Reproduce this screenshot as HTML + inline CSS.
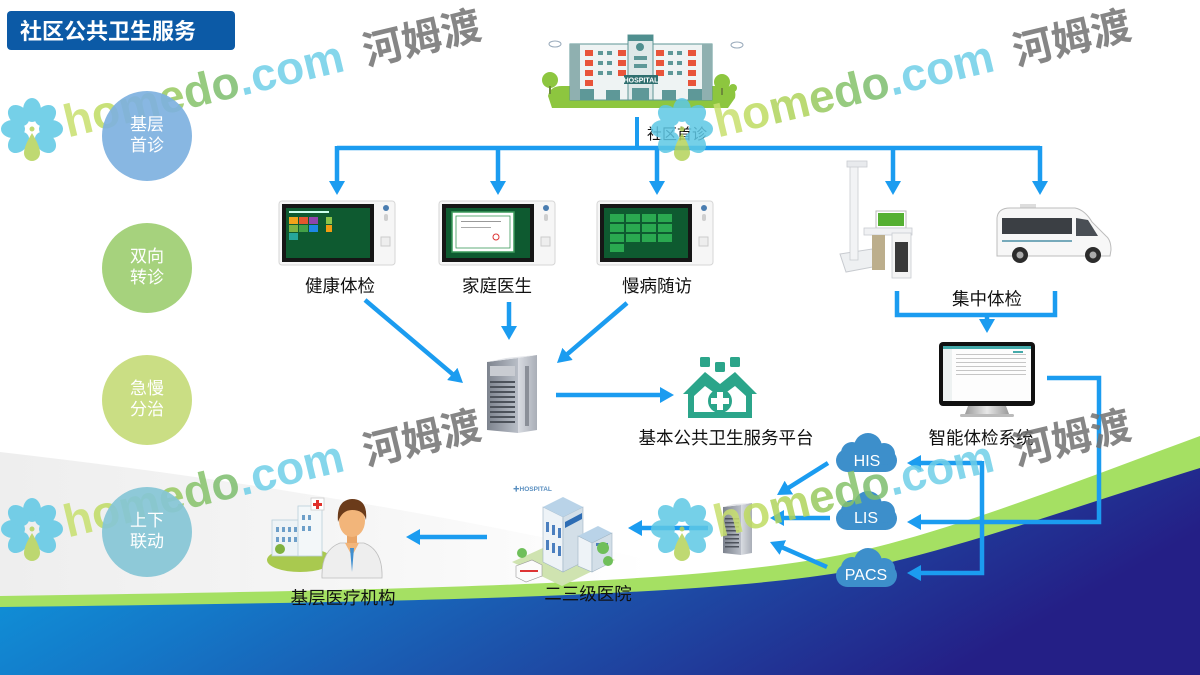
<!DOCTYPE html>
<html><head><meta charset="utf-8">
<style>
html,body{margin:0;padding:0;background:#fff;width:1200px;height:675px;overflow:hidden}
svg{display:block}
text{font-family:"Liberation Sans","Noto Sans CJK SC",sans-serif}
</style></head>
<body>
<svg width="1200" height="675" viewBox="0 0 1200 675" xmlns="http://www.w3.org/2000/svg">
<defs>
 <linearGradient id="blueg" x1="0" y1="0" x2="1" y2="0.3">
  <stop offset="0" stop-color="#0ca4e4"/>
  <stop offset="0.35" stop-color="#1478c8"/>
  <stop offset="0.65" stop-color="#1d4fa8"/>
  <stop offset="1" stop-color="#241f86"/>
 </linearGradient>
 <linearGradient id="grayg" x1="0" y1="0" x2="1" y2="0">
  <stop offset="0" stop-color="#eeeeee"/>
  <stop offset="0.5" stop-color="#f5f5f5"/>
  <stop offset="1" stop-color="#ffffff"/>
 </linearGradient>
 <linearGradient id="srv" x1="0" y1="0" x2="1" y2="0">
  <stop offset="0" stop-color="#7d838e"/>
  <stop offset="1" stop-color="#b9bec7"/>
 </linearGradient>
 <linearGradient id="srvs" x1="0" y1="0" x2="1" y2="0">
  <stop offset="0" stop-color="#d9dce2"/>
  <stop offset="1" stop-color="#a9aeb7"/>
 </linearGradient>
 <linearGradient id="stand" x1="0" y1="0" x2="1" y2="0">
  <stop offset="0" stop-color="#9a9a9a"/>
  <stop offset="0.5" stop-color="#e8e8e8"/>
  <stop offset="1" stop-color="#9a9a9a"/>
 </linearGradient>
 <marker id="ah" markerWidth="16" markerHeight="16" refX="2" refY="8" orient="auto" markerUnits="userSpaceOnUse"><path d="M0,0 L14,8 L0,16 z" fill="#1b9cf0"/></marker>
</defs>

<!-- background bottom -->
<path d="M0,452 C200,475 400,505 650,560 L650,590 C400,594 200,596 0,598 Z" fill="url(#grayg)"/>
<path d="M0,596 C400,590 700,585 850,553 C950,532 1080,480 1200,436 L1200,675 L0,675 Z" fill="#a5e063"/>
<path d="M0,607 C400,602 700,597 850,571 C950,552 1080,505 1200,468 L1200,675 L0,675 Z" fill="url(#blueg)"/>

<!-- header -->
<rect x="7" y="11" width="228" height="39" rx="4" fill="#0c5aa6"/>
<text x="20" y="39" font-size="22" font-weight="bold" fill="#fff">社区公共卫生服务</text>

<!-- top hospital -->
<g>
 <path d="M548,96 Q550,86 562,86 L728,86 Q737,88 735,98 L728,108 L552,108 Z" fill="#8dc63f"/>
 <circle cx="550" cy="80" r="8" fill="#8dc63f"/><rect x="549" y="86" width="2" height="8" fill="#6d8a3a"/>
 <circle cx="722" cy="82" r="8" fill="#8dc63f"/><rect x="721" y="88" width="2" height="7" fill="#6d8a3a"/>
 <circle cx="733" cy="88" r="4" fill="#8dc63f"/>
 <ellipse cx="555" cy="44" rx="6" ry="3" fill="none" stroke="#9ab" stroke-width="1"/>
 <ellipse cx="737" cy="45" rx="6" ry="3" fill="none" stroke="#9ab" stroke-width="1"/>
 <rect x="570" y="44" width="142" height="56" fill="#eef3f3" stroke="#5d9595" stroke-width="1"/>
 <rect x="570" y="44" width="10" height="56" fill="#8fb0b0"/>
 <rect x="702" y="44" width="10" height="56" fill="#8fb0b0"/>
 <rect x="628" y="35" width="25" height="65" fill="#dfe9e9" stroke="#5d9595" stroke-width="1"/>
 <rect x="628" y="35" width="25" height="6" fill="#4f8f8f"/>
 <circle cx="640" cy="47" r="4" fill="#4f8f8f"/>
 <g fill="#e8543a">
  <rect x="585" y="50" width="8" height="6"/><rect x="618" y="50" width="8" height="6"/><rect x="656" y="50" width="8" height="6"/><rect x="688" y="50" width="8" height="6"/>
  <rect x="585" y="60" width="8" height="6"/><rect x="618" y="60" width="8" height="6"/><rect x="656" y="60" width="8" height="6"/><rect x="688" y="60" width="8" height="6"/>
  <rect x="585" y="70" width="8" height="6"/><rect x="618" y="70" width="8" height="6"/><rect x="656" y="70" width="8" height="6"/><rect x="688" y="70" width="8" height="6"/>
  <rect x="585" y="80" width="8" height="6"/><rect x="688" y="80" width="8" height="6"/>
 </g>
 <g fill="#5e9898">
  <rect x="598" y="51" width="5" height="4"/><rect x="607" y="51" width="5" height="4"/><rect x="668" y="51" width="5" height="4"/><rect x="677" y="51" width="5" height="4"/>
  <rect x="598" y="61" width="5" height="4"/><rect x="607" y="61" width="5" height="4"/><rect x="668" y="61" width="5" height="4"/><rect x="677" y="61" width="5" height="4"/>
  <rect x="598" y="71" width="5" height="4"/><rect x="607" y="71" width="5" height="4"/><rect x="668" y="71" width="5" height="4"/><rect x="677" y="71" width="5" height="4"/>
  <rect x="634" y="56" width="13" height="4"/><rect x="634" y="64" width="13" height="4"/>
  <rect x="580" y="89" width="14" height="11"/><rect x="606" y="90" width="14" height="10"/><rect x="632" y="88" width="17" height="12"/><rect x="662" y="90" width="14" height="10"/><rect x="688" y="89" width="14" height="11"/>
 </g>
 <rect x="624" y="75" width="34" height="9" fill="#2f6f6f"/>
 <text x="641" y="82.5" font-size="7" font-weight="bold" fill="#fff" text-anchor="middle">HOSPITAL</text>
</g>
<rect x="635" y="117" width="4" height="31" fill="#1b9cf0"/>
<text x="647" y="139" font-size="15" fill="#111">社区首诊</text>

<!-- distribution lines -->
<g stroke="#1b9cf0" stroke-width="4.5" fill="none">
 <path d="M337,148 H1040"/>
 <path d="M337,146 V183" marker-end="url(#ah)"/>
 <path d="M498,148 V183" marker-end="url(#ah)"/>
 <path d="M657,148 V183" marker-end="url(#ah)"/>
 <path d="M893,148 V183" marker-end="url(#ah)"/>
 <path d="M1040,146 V183" marker-end="url(#ah)"/>
</g>

<!-- tablets -->
<g transform="translate(279,201)">
 <rect x="0" y="0" width="116" height="64" rx="3" fill="#f6f6f6" stroke="#d6d6d6"/>
 <rect x="3" y="3" width="92" height="58" fill="#161616"/>
 <rect x="7" y="7" width="84" height="50" fill="#0e5a30"/>
 <rect x="10" y="10" width="40" height="2" fill="#cfe"/>
 <rect x="10" y="16" width="9" height="7" fill="#f2a31b"/><rect x="20" y="16" width="9" height="7" fill="#e4572e"/><rect x="30" y="16" width="9" height="7" fill="#8e44ad"/><rect x="47" y="16" width="6" height="7" fill="#8bc34a"/>
 <rect x="10" y="24" width="9" height="7" fill="#7cb342"/><rect x="20" y="24" width="9" height="7" fill="#43a047"/><rect x="30" y="24" width="9" height="7" fill="#1e88e5"/><rect x="47" y="24" width="6" height="7" fill="#f39c12"/>
 <rect x="10" y="32" width="9" height="7" fill="#26a69a"/>
 <circle cx="107" cy="7" r="3" fill="#4a7db0"/>
 <rect x="105" y="13" width="4" height="7" rx="2" fill="#cfcfcf"/>
 <rect x="102" y="36" width="9" height="9" fill="#eee" stroke="#ccc"/>
</g>
<g transform="translate(439,201)">
 <rect x="0" y="0" width="116" height="64" rx="3" fill="#f6f6f6" stroke="#d6d6d6"/>
 <rect x="3" y="3" width="92" height="58" fill="#161616"/>
 <rect x="7" y="7" width="84" height="50" fill="#0e5a30"/>
 <rect x="13" y="11" width="62" height="40" fill="#fff" stroke="#3a9a5a" stroke-width="1.5"/>
 <rect x="17" y="15" width="54" height="32" fill="none" stroke="#3a9a5a" stroke-width="0.8"/>
 <rect x="22" y="20" width="40" height="1" fill="#999"/><rect x="22" y="26" width="30" height="1" fill="#aaa"/>
 <circle cx="57" cy="36" r="3" fill="none" stroke="#d33" stroke-width="1"/>
 <circle cx="107" cy="7" r="3" fill="#4a7db0"/>
 <rect x="105" y="13" width="4" height="7" rx="2" fill="#cfcfcf"/>
 <rect x="102" y="36" width="9" height="9" fill="#eee" stroke="#ccc"/>
</g>
<g transform="translate(597,201)">
 <rect x="0" y="0" width="116" height="64" rx="3" fill="#f6f6f6" stroke="#d6d6d6"/>
 <rect x="3" y="3" width="92" height="58" fill="#161616"/>
 <rect x="7" y="7" width="84" height="50" fill="#0e5a30"/>
 <g fill="#2aa850">
  <rect x="13" y="13" width="14" height="8"/><rect x="29" y="13" width="14" height="8"/><rect x="45" y="13" width="14" height="8"/><rect x="61" y="13" width="14" height="8"/>
  <rect x="13" y="23" width="14" height="8"/><rect x="29" y="23" width="14" height="8"/><rect x="45" y="23" width="14" height="8"/><rect x="61" y="23" width="14" height="8"/>
  <rect x="13" y="33" width="14" height="8"/><rect x="29" y="33" width="14" height="8"/><rect x="45" y="33" width="14" height="8"/><rect x="61" y="33" width="14" height="8"/>
  <rect x="13" y="43" width="14" height="8"/>
 </g>
 <circle cx="107" cy="7" r="3" fill="#4a7db0"/>
 <rect x="105" y="13" width="4" height="7" rx="2" fill="#cfcfcf"/>
 <rect x="102" y="36" width="9" height="9" fill="#eee" stroke="#ccc"/>
</g>
<text x="340" y="292" font-size="17.5" fill="#111" text-anchor="middle">健康体检</text>
<text x="497" y="292" font-size="17.5" fill="#111" text-anchor="middle">家庭医生</text>
<text x="657" y="292" font-size="17.5" fill="#111" text-anchor="middle">慢病随访</text>

<!-- body check machine -->
<g>
 <path d="M840,254 L872,249 L878,266 L846,272 Z" fill="#eef0f2" stroke="#c8cbd0"/>
 <rect x="850" y="165" width="8" height="95" fill="#f2f3f5" stroke="#c9ccd1" stroke-width="0.8"/>
 <rect x="847" y="161" width="20" height="6" fill="#e8eaed" stroke="#c9ccd1" stroke-width="0.8"/>
 <rect x="876" y="211" width="30" height="17" fill="#fff" stroke="#bbb"/>
 <rect x="878" y="213" width="26" height="13" fill="#55b033"/>
 <rect x="864" y="228" width="48" height="7" fill="#f0f1f3" stroke="#c9ccd1" stroke-width="0.8"/>
 <rect x="872" y="235" width="13" height="35" fill="#bcae8c"/>
 <rect x="892" y="233" width="19" height="45" fill="#f4f4f4" stroke="#c9ccd1" stroke-width="0.8"/>
 <rect x="895" y="242" width="13" height="30" fill="#3a3a3a"/>
</g>
<!-- van -->
<g>
 <rect x="1020" y="204" width="16" height="5" fill="#ddd"/>
 <path d="M997,252 L997,218 Q998,208 1010,208 L1075,208 Q1085,210 1092,222 L1106,236 Q1111,240 1111,250 L1110,256 L997,256 Z" fill="#f7f7f7" stroke="#bcbcbc"/>
 <path d="M1002,218 H1072 V234 H1002 Z" fill="#3b3f44"/>
 <path d="M1076,218 L1088,220 L1098,236 L1076,236 Z" fill="#4a4f55"/>
 <rect x="1002" y="240" width="70" height="2" fill="#7ab"/>
 <circle cx="1020" cy="255" r="8" fill="#2c2c2c"/><circle cx="1020" cy="255" r="3.5" fill="#aaa"/>
 <circle cx="1093" cy="255" r="8" fill="#2c2c2c"/><circle cx="1093" cy="255" r="3.5" fill="#aaa"/>
</g>
<text x="987" y="305" font-size="17.5" fill="#111" text-anchor="middle">集中体检</text>
<g stroke="#1b9cf0" stroke-width="4.5" fill="none">
 <path d="M897,291 V315 H1055 V291"/>
 <path d="M987,315 V321" marker-end="url(#ah)"/>
</g>

<!-- monitor -->
<g>
 <rect x="939" y="342" width="96" height="64" rx="4" fill="#111"/>
 <rect x="943" y="346" width="88" height="55" fill="#fdfdfd"/>
 <rect x="943" y="346" width="88" height="3" fill="#4aa"/>
 <rect x="943" y="349" width="9" height="52" fill="#eef2f2"/>
 <g fill="#c6c6c6">
  <rect x="956" y="354" width="70" height="1"/><rect x="956" y="358" width="70" height="1"/><rect x="956" y="362" width="70" height="1"/><rect x="956" y="366" width="70" height="1"/><rect x="956" y="370" width="70" height="1"/><rect x="956" y="374" width="70" height="1"/>
 </g>
 <rect x="1013" y="351" width="10" height="2" fill="#4aa"/>
 <path d="M968,406 L1006,406 L1009,414 L965,414 Z" fill="url(#stand)"/>
 <rect x="960" y="414" width="54" height="3" rx="1.5" fill="#bbb"/>
</g>
<text x="981" y="444" font-size="17.5" fill="#111" text-anchor="middle">智能体检系统</text>

<!-- main server -->
<g>
 <path d="M487,362 L518,358 L518,433 L487,430 Z" fill="url(#srv)"/>
 <path d="M518,358 L537,355 L537,430 L518,433 Z" fill="url(#srvs)"/>
 <path d="M487,362 L506,358 L537,355 L518,358 Z" fill="#e4e6ea"/>
 <rect x="490" y="366" width="25" height="10" fill="#c9ccd2"/>
 <g fill="#4d525b">
  <rect x="490" y="381" width="25" height="2"/><rect x="490" y="386" width="25" height="2"/><rect x="490" y="391" width="25" height="2"/><rect x="490" y="396" width="25" height="2"/><rect x="490" y="401" width="25" height="2"/><rect x="490" y="406" width="25" height="2"/><rect x="490" y="411" width="25" height="2"/><rect x="490" y="416" width="25" height="2"/><rect x="490" y="421" width="25" height="2"/>
 </g>
 <rect x="525" y="366" width="4" height="60" fill="#8a8f98"/>
</g>
<!-- tablet -> server arrows -->
<g stroke="#1b9cf0" stroke-width="4.5" fill="none">
 <path d="M365,300 L453.8,375.2" marker-end="url(#ah)"/>
 <path d="M509,302 L509,328" marker-end="url(#ah)"/>
 <path d="M627,303 L566.1,355.2" marker-end="url(#ah)"/>
 <path d="M556,395 L662,395" marker-end="url(#ah)"/>
</g>

<!-- platform icon -->
<g fill="#2ba58a">
 <rect x="700" y="357" width="10" height="10" rx="1.5"/>
 <rect x="715" y="362" width="10" height="10" rx="1.5"/>
 <rect x="730" y="357" width="10" height="10" rx="1.5"/>
 <path d="M683,394 L705,372 L720,384 L735,372 L757,394 L752,394 L752,418 L688,418 L688,394 Z"/>
</g>
<path d="M694,396 L705,386 L720,397 L735,386 L746,396 L746,412 L694,412 Z" fill="#fff"/>
<circle cx="720" cy="401" r="12" fill="#2ba58a"/>
<path d="M717,392 H723 V398 H729 V404 H723 V410 H717 V404 H711 V398 H717 Z" fill="#fff"/>
<text x="726" y="444" font-size="17.5" fill="#111" text-anchor="middle">基本公共卫生服务平台</text>

<!-- clouds -->
<g fill="#3d8fcb">
 <rect x="836" y="449" width="61" height="23" rx="11.5"/><circle cx="852" cy="453" r="11"/><circle cx="868" cy="447" r="14"/><circle cx="884" cy="454" r="11"/>
 <rect x="836" y="507" width="61" height="23" rx="11.5"/><circle cx="852" cy="511" r="11"/><circle cx="868" cy="505" r="14"/><circle cx="884" cy="512" r="11"/>
 <rect x="836" y="564" width="61" height="23" rx="11.5"/><circle cx="852" cy="568" r="11"/><circle cx="868" cy="562" r="14"/><circle cx="884" cy="569" r="11"/>
</g>
<text x="867" y="466" font-size="16" fill="#fff" text-anchor="middle">HIS</text>
<text x="866" y="523" font-size="16" fill="#fff" text-anchor="middle">LIS</text>
<text x="866" y="580" font-size="16" fill="#fff" text-anchor="middle">PACS</text>

<g stroke="#1b9cf0" stroke-width="4.5" fill="none">
 <path d="M1047,378 H1099 V522 H919" marker-end="url(#ah)"/>
 <path d="M982,463 H919" marker-end="url(#ah)"/>
 <path d="M982,461 V573 H919" marker-end="url(#ah)"/>
 <path d="M828,463 L787.2,488.6" marker-end="url(#ah)"/>
 <path d="M830,518 L782,518" marker-end="url(#ah)"/>
 <path d="M827,567 L781,546.8" marker-end="url(#ah)"/>
 <path d="M708,528 L640,528" marker-end="url(#ah)"/>
 <path d="M487,537 L418,537" marker-end="url(#ah)"/>
</g>

<!-- small server -->
<g>
 <path d="M723,507 L741,505 L741,555 L723,553 Z" fill="url(#srv)"/>
 <path d="M741,505 L752,503 L752,553 L741,555 Z" fill="url(#srvs)"/>
 <path d="M723,507 L734,504 L752,503 L741,505 Z" fill="#e4e6ea"/>
 <g fill="#4d525b">
  <rect x="725" y="518" width="14" height="1.5"/><rect x="725" y="522" width="14" height="1.5"/><rect x="725" y="526" width="14" height="1.5"/><rect x="725" y="530" width="14" height="1.5"/><rect x="725" y="534" width="14" height="1.5"/><rect x="725" y="538" width="14" height="1.5"/><rect x="725" y="542" width="14" height="1.5"/><rect x="725" y="546" width="14" height="1.5"/>
 </g>
</g>

<!-- hospital 2 -->
<g>
 <text x="513" y="491" font-size="6.5" font-weight="bold" fill="#5a8fc0">✚HOSPITAL</text>
 <path d="M512,562 L565,538 L615,560 L562,586 Z" fill="#cfe3b0"/>
 <path d="M543,507 L563,517 L563,572 L543,562 Z" fill="#eef3f7" stroke="#9fb4c4" stroke-width="0.6"/>
 <path d="M563,517 L583,507 L583,562 L563,572 Z" fill="#d3dfe8" stroke="#9fb4c4" stroke-width="0.6"/>
 <path d="M543,507 L563,497 L583,507 L563,517 Z" fill="#b9d3e8"/>
 <path d="M565,522 L582,513 L582,519 L565,528 Z" fill="#2e6db4"/>
 <g fill="#4b7fbf">
  <rect x="546" y="522" width="3" height="10"/><rect x="552" y="525" width="3" height="10"/><rect x="558" y="528" width="3" height="10"/>
  <rect x="546" y="540" width="3" height="10"/><rect x="552" y="543" width="3" height="10"/><rect x="558" y="546" width="3" height="10"/>
 </g>
 <path d="M578,536 L598,526 L612,533 L592,543 Z" fill="#b9d3e8"/>
 <path d="M578,536 L592,543 L592,572 L578,566 Z" fill="#eef3f7" stroke="#9fb4c4" stroke-width="0.6"/>
 <path d="M592,543 L612,533 L612,562 L592,572 Z" fill="#d3dfe8" stroke="#9fb4c4" stroke-width="0.6"/>
 <rect x="596" y="543" width="12" height="3" fill="#4b7fbf"/>
 <circle cx="603" cy="548" r="6" fill="#6fbf5a"/><circle cx="608" cy="561" r="5" fill="#6fbf5a"/><circle cx="522" cy="553" r="5" fill="#6fbf5a"/>
 <path d="M516,566 L532,560 L542,565 L542,576 L526,582 L516,577 Z" fill="#fbfbfb" stroke="#999" stroke-width="0.6"/>
 <rect x="520" y="570" width="18" height="2" fill="#d33"/>
</g>
<text x="588" y="600" font-size="17.5" fill="#111" text-anchor="middle">二三级医院</text>

<!-- basic medical institution -->
<g>
 <ellipse cx="300" cy="560" rx="33" ry="12" fill="#a9c94f"/>
 <rect x="272" y="520" width="34" height="36" fill="#edf3f6" stroke="#b9cfda" stroke-width="0.8"/>
 <rect x="298" y="506" width="24" height="50" fill="#f3f7f9" stroke="#b9cfda" stroke-width="0.8"/>
 <rect x="311" y="498" width="13" height="12" fill="#fff" stroke="#ccc" stroke-width="0.8"/>
 <path d="M316,500 H319 V503 H322 V506 H319 V509 H316 V506 H313 V503 H316 Z" fill="#e0302a"/>
 <g fill="#6d9fc9">
  <rect x="276" y="527" width="3" height="5"/><rect x="282" y="527" width="3" height="5"/><rect x="288" y="527" width="3" height="5"/><rect x="294" y="527" width="3" height="5"/>
  <rect x="276" y="537" width="3" height="5"/><rect x="282" y="537" width="3" height="5"/><rect x="288" y="537" width="3" height="5"/><rect x="294" y="537" width="3" height="5"/>
  <rect x="302" y="515" width="3" height="5"/><rect x="308" y="515" width="3" height="5"/><rect x="302" y="526" width="3" height="5"/><rect x="308" y="526" width="3" height="5"/>
 </g>
 <circle cx="280" cy="549" r="5" fill="#7fb23f"/>
 <path d="M322,578 Q321,550 340,543 L364,543 Q383,550 382,578 Z" fill="#eeeeee" stroke="#bdbdbd" stroke-width="0.8"/>
 <path d="M345,543 L352,556 L359,543 Z" fill="#f2b57a"/>
 <path d="M350,548 L352,572 L354,548 Z" fill="#3f8fd0"/>
 <rect x="347" y="533" width="10" height="10" fill="#e8a466"/>
 <ellipse cx="352" cy="521" rx="13" ry="16" fill="#f2b57a"/>
 <path d="M338,522 Q336,500 352,499 Q368,499 366,520 Q364,510 352,510 Q342,510 338,522 Z" fill="#6b3b1a"/>
</g>
<text x="343" y="604" font-size="17.5" fill="#111" text-anchor="middle">基层医疗机构</text>

<!-- watermarks -->
<g opacity="0.85">
 <g transform="translate(32,129)">
  <g fill="#5ec8e5">
   <ellipse cx="0" cy="-19" rx="9" ry="12"/>
   <ellipse cx="0" cy="-19" rx="9" ry="12" transform="rotate(45)"/>
   <ellipse cx="0" cy="-19" rx="9" ry="12" transform="rotate(90)"/>
   <ellipse cx="0" cy="-19" rx="9" ry="12" transform="rotate(135)"/>
   <ellipse cx="0" cy="-19" rx="9" ry="12" transform="rotate(225)"/>
   <ellipse cx="0" cy="-19" rx="9" ry="12" transform="rotate(270)"/>
   <ellipse cx="0" cy="-19" rx="9" ry="12" transform="rotate(315)"/>
  </g>
  <path d="M0,4 C6,14 8,20 8,24 A8,8 0 0 1 -8,24 C-8,20 -6,14 0,4 Z" fill="#b5d35a"/>
  <circle cx="0" cy="0" r="2.5" fill="#b5d35a"/>
 </g>
 <text x="68" y="137" transform="rotate(-13.5 70 137)" font-size="46" font-weight="bold"><tspan fill="#c8e06e">h</tspan><tspan fill="#bfdc62">o</tspan><tspan fill="#b0d45c">m</tspan><tspan fill="#98ca60">e</tspan><tspan fill="#86c26a">d</tspan><tspan fill="#7dbe6e">o</tspan><tspan fill="#70cfe8">.com</tspan></text>
 <text x="375" y="137" transform="rotate(-13.5 70 137)" font-size="40" font-weight="bold" fill="#727272">河姆渡</text>
</g>
<g opacity="0.85" transform="translate(650,0)">
 <g transform="translate(32,129)">
  <g fill="#5ec8e5">
   <ellipse cx="0" cy="-19" rx="9" ry="12"/>
   <ellipse cx="0" cy="-19" rx="9" ry="12" transform="rotate(45)"/>
   <ellipse cx="0" cy="-19" rx="9" ry="12" transform="rotate(90)"/>
   <ellipse cx="0" cy="-19" rx="9" ry="12" transform="rotate(135)"/>
   <ellipse cx="0" cy="-19" rx="9" ry="12" transform="rotate(225)"/>
   <ellipse cx="0" cy="-19" rx="9" ry="12" transform="rotate(270)"/>
   <ellipse cx="0" cy="-19" rx="9" ry="12" transform="rotate(315)"/>
  </g>
  <path d="M0,4 C6,14 8,20 8,24 A8,8 0 0 1 -8,24 C-8,20 -6,14 0,4 Z" fill="#b5d35a"/>
  <circle cx="0" cy="0" r="2.5" fill="#b5d35a"/>
 </g>
 <text x="68" y="137" transform="rotate(-13.5 70 137)" font-size="46" font-weight="bold"><tspan fill="#c8e06e">h</tspan><tspan fill="#bfdc62">o</tspan><tspan fill="#b0d45c">m</tspan><tspan fill="#98ca60">e</tspan><tspan fill="#86c26a">d</tspan><tspan fill="#7dbe6e">o</tspan><tspan fill="#70cfe8">.com</tspan></text>
 <text x="375" y="137" transform="rotate(-13.5 70 137)" font-size="40" font-weight="bold" fill="#727272">河姆渡</text>
</g>
<g opacity="0.85" transform="translate(0,400)">
 <g transform="translate(32,129)">
  <g fill="#5ec8e5">
   <ellipse cx="0" cy="-19" rx="9" ry="12"/>
   <ellipse cx="0" cy="-19" rx="9" ry="12" transform="rotate(45)"/>
   <ellipse cx="0" cy="-19" rx="9" ry="12" transform="rotate(90)"/>
   <ellipse cx="0" cy="-19" rx="9" ry="12" transform="rotate(135)"/>
   <ellipse cx="0" cy="-19" rx="9" ry="12" transform="rotate(225)"/>
   <ellipse cx="0" cy="-19" rx="9" ry="12" transform="rotate(270)"/>
   <ellipse cx="0" cy="-19" rx="9" ry="12" transform="rotate(315)"/>
  </g>
  <path d="M0,4 C6,14 8,20 8,24 A8,8 0 0 1 -8,24 C-8,20 -6,14 0,4 Z" fill="#b5d35a"/>
  <circle cx="0" cy="0" r="2.5" fill="#b5d35a"/>
 </g>
 <text x="68" y="137" transform="rotate(-13.5 70 137)" font-size="46" font-weight="bold"><tspan fill="#c8e06e">h</tspan><tspan fill="#bfdc62">o</tspan><tspan fill="#b0d45c">m</tspan><tspan fill="#98ca60">e</tspan><tspan fill="#86c26a">d</tspan><tspan fill="#7dbe6e">o</tspan><tspan fill="#70cfe8">.com</tspan></text>
 <text x="375" y="137" transform="rotate(-13.5 70 137)" font-size="40" font-weight="bold" fill="#727272">河姆渡</text>
</g>
<g opacity="0.85" transform="translate(650,400)">
 <g transform="translate(32,129)">
  <g fill="#5ec8e5">
   <ellipse cx="0" cy="-19" rx="9" ry="12"/>
   <ellipse cx="0" cy="-19" rx="9" ry="12" transform="rotate(45)"/>
   <ellipse cx="0" cy="-19" rx="9" ry="12" transform="rotate(90)"/>
   <ellipse cx="0" cy="-19" rx="9" ry="12" transform="rotate(135)"/>
   <ellipse cx="0" cy="-19" rx="9" ry="12" transform="rotate(225)"/>
   <ellipse cx="0" cy="-19" rx="9" ry="12" transform="rotate(270)"/>
   <ellipse cx="0" cy="-19" rx="9" ry="12" transform="rotate(315)"/>
  </g>
  <path d="M0,4 C6,14 8,20 8,24 A8,8 0 0 1 -8,24 C-8,20 -6,14 0,4 Z" fill="#b5d35a"/>
  <circle cx="0" cy="0" r="2.5" fill="#b5d35a"/>
 </g>
 <text x="68" y="137" transform="rotate(-13.5 70 137)" font-size="46" font-weight="bold"><tspan fill="#c8e06e">h</tspan><tspan fill="#bfdc62">o</tspan><tspan fill="#b0d45c">m</tspan><tspan fill="#98ca60">e</tspan><tspan fill="#86c26a">d</tspan><tspan fill="#7dbe6e">o</tspan><tspan fill="#70cfe8">.com</tspan></text>
 <text x="375" y="137" transform="rotate(-13.5 70 137)" font-size="40" font-weight="bold" fill="#727272">河姆渡</text>
</g>

<!-- left circles (above watermark, slightly translucent) -->
<g opacity="0.92">
<circle cx="147" cy="136" r="45" fill="#7eb1e0"/>
<circle cx="147" cy="268" r="45" fill="#9fcf72"/>
<circle cx="147" cy="400" r="45" fill="#c6dc7a"/>
<circle cx="147" cy="532" r="45" fill="#86c6d6"/>
</g>
<text x="147" y="130" font-size="17" fill="#fff" text-anchor="middle">基层</text>
<text x="147" y="151" font-size="17" fill="#fff" text-anchor="middle">首诊</text>
<text x="147" y="262" font-size="17" fill="#fff" text-anchor="middle">双向</text>
<text x="147" y="283" font-size="17" fill="#fff" text-anchor="middle">转诊</text>
<text x="147" y="394" font-size="17" fill="#fff" text-anchor="middle">急慢</text>
<text x="147" y="415" font-size="17" fill="#fff" text-anchor="middle">分治</text>
<text x="147" y="526" font-size="17" fill="#fff" text-anchor="middle">上下</text>
<text x="147" y="547" font-size="17" fill="#fff" text-anchor="middle">联动</text>
</svg>
</body></html>
